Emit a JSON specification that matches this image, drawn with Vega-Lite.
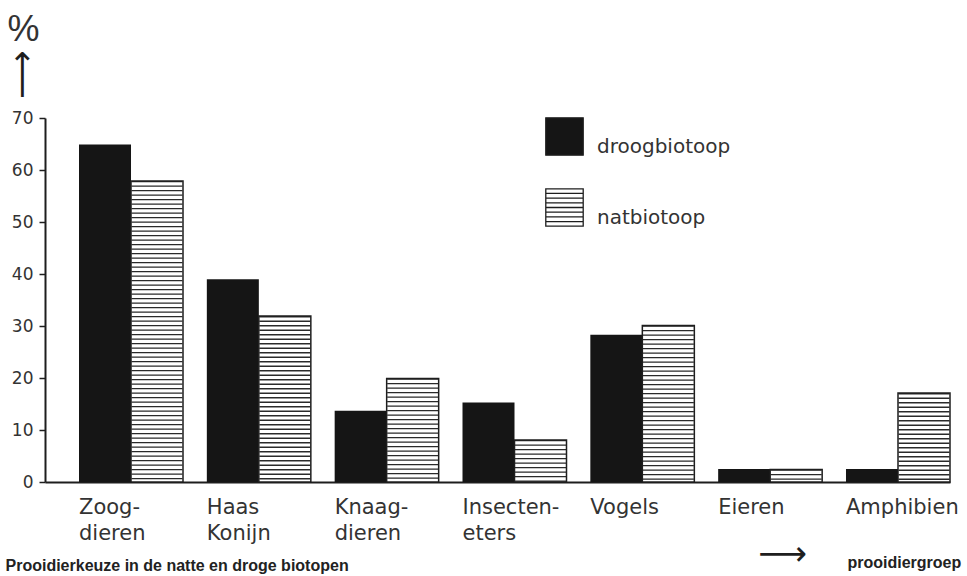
{
  "$schema": "https://vega.github.io/schema/vega-lite/v6.json",
  "width": 905,
  "height": 364,
  "autosize": {"type": "none"},
  "padding": {"left": 45, "top": 118, "right": 17, "bottom": 94},
  "background": "white",
  "data": {
    "values": [
      {"group": "Zoog- dieren", "series": "droogbiotoop", "value": 64.9},
      {"group": "Zoog- dieren", "series": "natbiotoop", "value": 57.9},
      {"group": "Haas Konijn", "series": "droogbiotoop", "value": 39.0},
      {"group": "Haas Konijn", "series": "natbiotoop", "value": 31.9},
      {"group": "Knaag- dieren", "series": "droogbiotoop", "value": 13.7},
      {"group": "Knaag- dieren", "series": "natbiotoop", "value": 19.9},
      {"group": "Insecten- eters", "series": "droogbiotoop", "value": 15.3},
      {"group": "Insecten- eters", "series": "natbiotoop", "value": 8.1},
      {"group": "Vogels", "series": "droogbiotoop", "value": 28.3},
      {"group": "Vogels", "series": "natbiotoop", "value": 30.1},
      {"group": "Eieren", "series": "droogbiotoop", "value": 2.5},
      {"group": "Eieren", "series": "natbiotoop", "value": 2.4},
      {"group": "Amphibien", "series": "droogbiotoop", "value": 2.5},
      {"group": "Amphibien", "series": "natbiotoop", "value": 17.1}
    ]
  },
  "resolve": {"axis": {"x": "independent", "y": "independent"}},
  "layer": [
    {
      "transform": [{"filter": "datum.series === 'droogbiotoop'"}],
      "mark": {"type": "bar", "stroke": null},
      "encoding": {
        "x": {
          "field": "group", "type": "nominal",
          "scale": {"type": "band", "domain": ["Zoog- dieren", "Haas Konijn", "Knaag- dieren", "Insecten- eters", "Vogels", "Eieren", "Amphibien"], "paddingInner": 0.1864, "paddingOuter": 0.133, "align": 1},
          "axis": {
            "orient": "bottom", "domain": true, "domainColor": "#1e1e1e", "domainWidth": 2, "ticks": false,
            "labelExpr": "split(datum.label, ' ')", "labelAlign": "left", "labelOffset": -52, "labelBaseline": "top",
            "labelPadding": 14, "labelLineHeight": 26, "labelFont": "DejaVu Sans", "labelFontSize": 21, "labelColor": "#333333",
            "labelAngle": 0, "labelOverlap": false, "labelLimit": 0,
            "title": "Prooidierkeuze in de natte en droge biotopen", "titleFont": "Liberation Sans", "titleFontSize": 16, "titleFontWeight": "bold",
            "titleColor": "#222222", "titleAlign": "left", "titleAnchor": null, "titleX": -40, "titleY": 88, "titleBaseline": "alphabetic"
          }
        },
        "xOffset": {"field": "series", "type": "nominal", "scale": {"domain": ["droogbiotoop", "natbiotoop"], "paddingInner": 0, "paddingOuter": 0}},
        "y": {
          "field": "value", "type": "quantitative",
          "scale": {"domain": [0, 70], "nice": false, "zero": true},
          "axis": {
            "orient": "left", "values": [0, 10, 20, 30, 40, 50, 60, 70], "grid": false,
            "domainColor": "#1e1e1e", "domainWidth": 2, "tickColor": "#1e1e1e", "tickWidth": 1.5, "tickSize": 6,
            "labelFont": "DejaVu Sans", "labelFontSize": 17, "labelColor": "#333333", "labelPadding": 6,
            "title": "%", "titleFont": "Liberation Sans", "titleFontSize": 36, "titleFontWeight": "normal", "titleColor": "#333333",
            "titleAngle": 0, "titleAlign": "left", "titleBaseline": "alphabetic", "titleX": -38, "titleY": -78, "titleAnchor": null
          }
        },
        "fill": {
          "field": "series", "type": "nominal",
          "scale": {"domain": ["droogbiotoop", "natbiotoop"], "range": ["#151515", "#ffffff"]},
          "legend": {
            "orient": "none", "legendX": 500, "legendY": -1, "title": null, "padding": 0, "offset": 0,
            "symbolType": "square", "symbolSize": 1400, "symbolStrokeColor": "#1e1e1e", "symbolStrokeWidth": 1.5, "symbolOpacity": 1,
            "labelFont": "DejaVu Sans", "labelFontSize": 20, "labelColor": "#333333", "labelOffset": 13, "labelBaseline": "top",
            "rowPadding": 28, "direction": "vertical",
            "encode": {
              "symbols": {
                "update": {
                  "shape": [
                    {"test": "datum.value === 'natbiotoop'", "value": "M-1,-1H1V1H-1ZM-1,-0.75H1M-1,-0.5H1M-1,-0.25H1M-1,0H1M-1,0.25H1M-1,0.5H1M-1,0.75H1"},
                    {"value": "square"}
                  ],
                  "stroke": {"value": "#1e1e1e"},
                  "strokeWidth": {"value": 1.3},
                  "opacity": {"value": 1}
                }
              }
            }
          }
        }
      }
    },
    {
      "transform": [{"filter": "datum.series === 'natbiotoop'"}],
      "mark": {"type": "bar", "fill": "white", "stroke": null},
      "encoding": {
        "x": {"field": "group", "type": "nominal", "axis": null},
        "xOffset": {"field": "series", "type": "nominal"},
        "y": {"field": "value", "type": "quantitative", "axis": null}
      }
    },
    {
      "transform": [{"filter": "datum.series === 'natbiotoop'"}],
      "mark": {"type": "rule", "xOffset": 26, "stroke": "#2a2a2a", "strokeWidth": 51, "strokeDash": [1.3, 3.2], "strokeCap": "butt"},
      "encoding": {
        "x": {
          "field": "group", "type": "nominal",
          "axis": {
            "orient": "top", "domain": false, "ticks": false, "labels": false,
            "title": "⟶", "titleFont": "DejaVu Sans", "titleFontSize": 34, "titleFontWeight": "normal", "titleColor": "#1e1e1e",
            "titleX": 737, "titleY": 436, "titleAlign": "center", "titleBaseline": "middle", "titleAnchor": null
          }
        },
        "y": {
          "field": "value", "type": "quantitative",
          "axis": {
            "orient": "right", "domain": false, "ticks": false, "labels": false, "grid": false,
            "title": "⟶", "titleFont": "DejaVu Sans", "titleFontSize": 34, "titleFontWeight": "normal", "titleColor": "#1e1e1e",
            "titleAngle": -90, "titleX": -928, "titleY": -44, "titleAlign": "center", "titleBaseline": "middle", "titleAnchor": null
          }
        },
        "y2": {"datum": 0}
      }
    },
    {
      "transform": [{"filter": "datum.series === 'natbiotoop'"}],
      "mark": {"type": "bar", "fill": "transparent", "stroke": "#1e1e1e", "strokeWidth": 1.5},
      "encoding": {
        "x": {
          "field": "group", "type": "nominal",
          "axis": {
            "orient": "top", "domain": false, "ticks": false, "labels": false,
            "title": "prooidiergroep", "titleFont": "Liberation Sans", "titleFontSize": 16, "titleFontWeight": "bold", "titleColor": "#222222",
            "titleX": 802, "titleY": 449, "titleAlign": "left", "titleBaseline": "alphabetic", "titleAnchor": null
          }
        },
        "xOffset": {"field": "series", "type": "nominal"},
        "y": {"field": "value", "type": "quantitative", "axis": null}
      }
    }
  ],
  "config": {"view": {"stroke": null}}
}
